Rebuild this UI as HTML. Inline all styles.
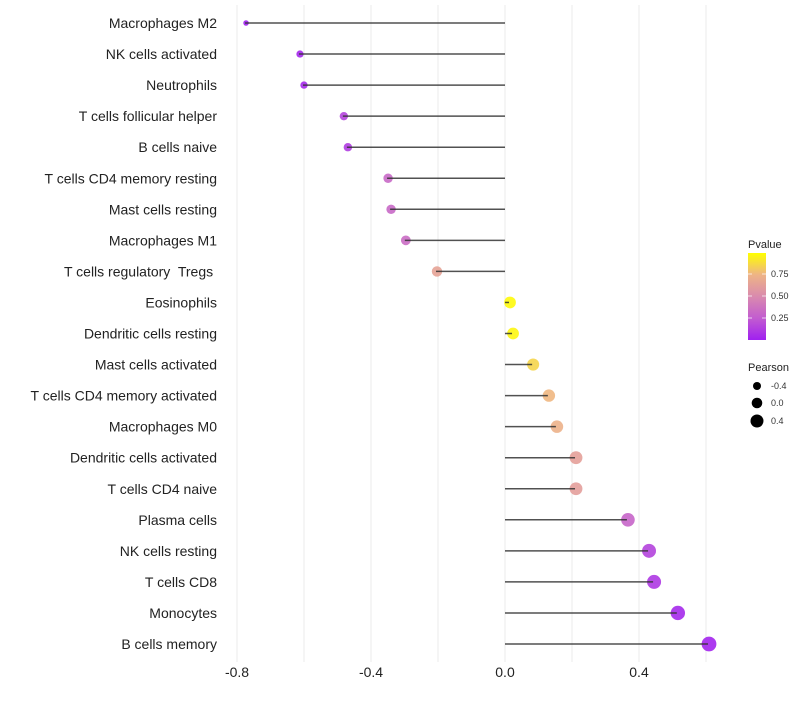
<!DOCTYPE html>
<html><head><meta charset="utf-8"><style>
body{margin:0;background:#fff;font-family:"Liberation Sans",sans-serif}
text{white-space:pre}
</style></head><body>
<svg id="c" width="800" height="700" xmlns="http://www.w3.org/2000/svg" font-family="Liberation Sans, sans-serif">
<defs><linearGradient id="pg" x1="0" y1="1" x2="0" y2="0">
<stop offset="0" stop-color="#a020f0"/><stop offset="0.25" stop-color="#c25cd0"/><stop offset="0.5" stop-color="#d98aae"/><stop offset="0.75" stop-color="#eeb486"/><stop offset="1" stop-color="#ffff00"/></linearGradient></defs>
<g id="grid"></g><g id="marks"></g><g id="labels"></g>
<g>
<text x="748" y="248" font-size="11" fill="#222">Pvalue</text>
<rect x="748" y="253" width="18" height="87" fill="url(#pg)"/>
<g stroke="#fff" stroke-width="1" opacity="0.7"><line x1="748" y1="274" x2="752" y2="274"/><line x1="762" y1="274" x2="766" y2="274"/><line x1="748" y1="296" x2="752" y2="296"/><line x1="762" y1="296" x2="766" y2="296"/><line x1="748" y1="318" x2="752" y2="318"/><line x1="762" y1="318" x2="766" y2="318"/></g>
<text x="771" y="277" font-size="9" fill="#333">0.75</text>
<text x="771" y="299" font-size="9" fill="#333">0.50</text>
<text x="771" y="321" font-size="9" fill="#333">0.25</text>
</g>
<g>
<text x="748" y="371" font-size="11" fill="#222">Pearson</text>
<circle cx="757" cy="386" r="4" fill="#000"/><text x="771" y="389" font-size="9" fill="#333">-0.4</text>
<circle cx="757" cy="403" r="5.3" fill="#000"/><text x="771" y="406" font-size="9" fill="#333">0.0</text>
<circle cx="757" cy="421" r="6.5" fill="#000"/><text x="771" y="424" font-size="9" fill="#333">0.4</text>
</g>
</svg>
<script>
const categories=["Macrophages M2","NK cells activated","Neutrophils","T cells follicular helper","B cells naive","T cells CD4 memory resting","Mast cells resting","Macrophages M1","T cells regulatory  Tregs ","Eosinophils","Dendritic cells resting","Mast cells activated","T cells CD4 memory activated","Macrophages M0","Dendritic cells activated","T cells CD4 naive","Plasma cells","NK cells resting","T cells CD8","Monocytes","B cells memory"];
const pearson=[-0.776,-0.615,-0.603,-0.484,-0.472,-0.352,-0.343,-0.299,-0.206,0.012,0.021,0.081,0.128,0.152,0.209,0.209,0.364,0.427,0.442,0.513,0.606];
const pvalue=[0.0,0.03,0.04,0.15,0.12,0.32,0.32,0.34,0.65,0.98,0.97,0.86,0.76,0.73,0.63,0.62,0.3,0.15,0.1,0.04,0.02];
const xticks=[-0.8,-0.4,0.0,0.4];
const xminor=[-0.6,-0.2,0.2,0.6];
const NS="http://www.w3.org/2000/svg";
const x=v=>505+v*335;
const y=i=>23+i*31.05;
const stops=[[0,[160,32,240]],[0.25,[194,92,208]],[0.5,[217,138,174]],[0.75,[238,180,134]],[1,[255,255,0]]];
function col(p){for(let k=1;k<stops.length;k++){if(p<=stops[k][0]){const a=stops[k-1],b=stops[k],t=(p-a[0])/(b[0]-a[0]);return 'rgb('+a[1].map((c,j)=>Math.round(c+(b[1][j]-c)*t)).join(',')+')';}}return 'rgb(255,255,0)';}
const rad=v=>Math.sqrt(Math.max(2.5,34+34*v));
function mk(t,a,p){const e=document.createElementNS(NS,t);for(const k in a)e.setAttribute(k,a[k]);p.appendChild(e);return e;}
const G=document.getElementById('grid'),M=document.getElementById('marks'),L=document.getElementById('labels');
xticks.concat(xminor).forEach(v=>{const l=mk('line',{x1:x(v),x2:x(v),y1:5,y2:662,stroke:'#ebebeb','stroke-width':1},G);

});
xticks.forEach(v=>{const t=mk('text',{x:x(v),y:677,'font-size':14,'text-anchor':'middle',fill:'#222'},L);t.textContent=v.toFixed(1);

});
categories.forEach((c,i)=>{
const t=mk('text',{x:217,y:y(i)+5,'font-size':14,'text-anchor':'end',fill:'#222'},L);t.textContent=c;


const ci=mk('circle',{cx:x(pearson[i])+1,cy:y(i),r:rad(pearson[i]),fill:col(pvalue[i]),opacity:0.9},M);


const s=mk('line',{x1:x(0),x2:x(pearson[i]),y1:y(i),y2:y(i),stroke:'#333','stroke-width':1.5,opacity:0.85},M);


});
</script>
</body></html>
